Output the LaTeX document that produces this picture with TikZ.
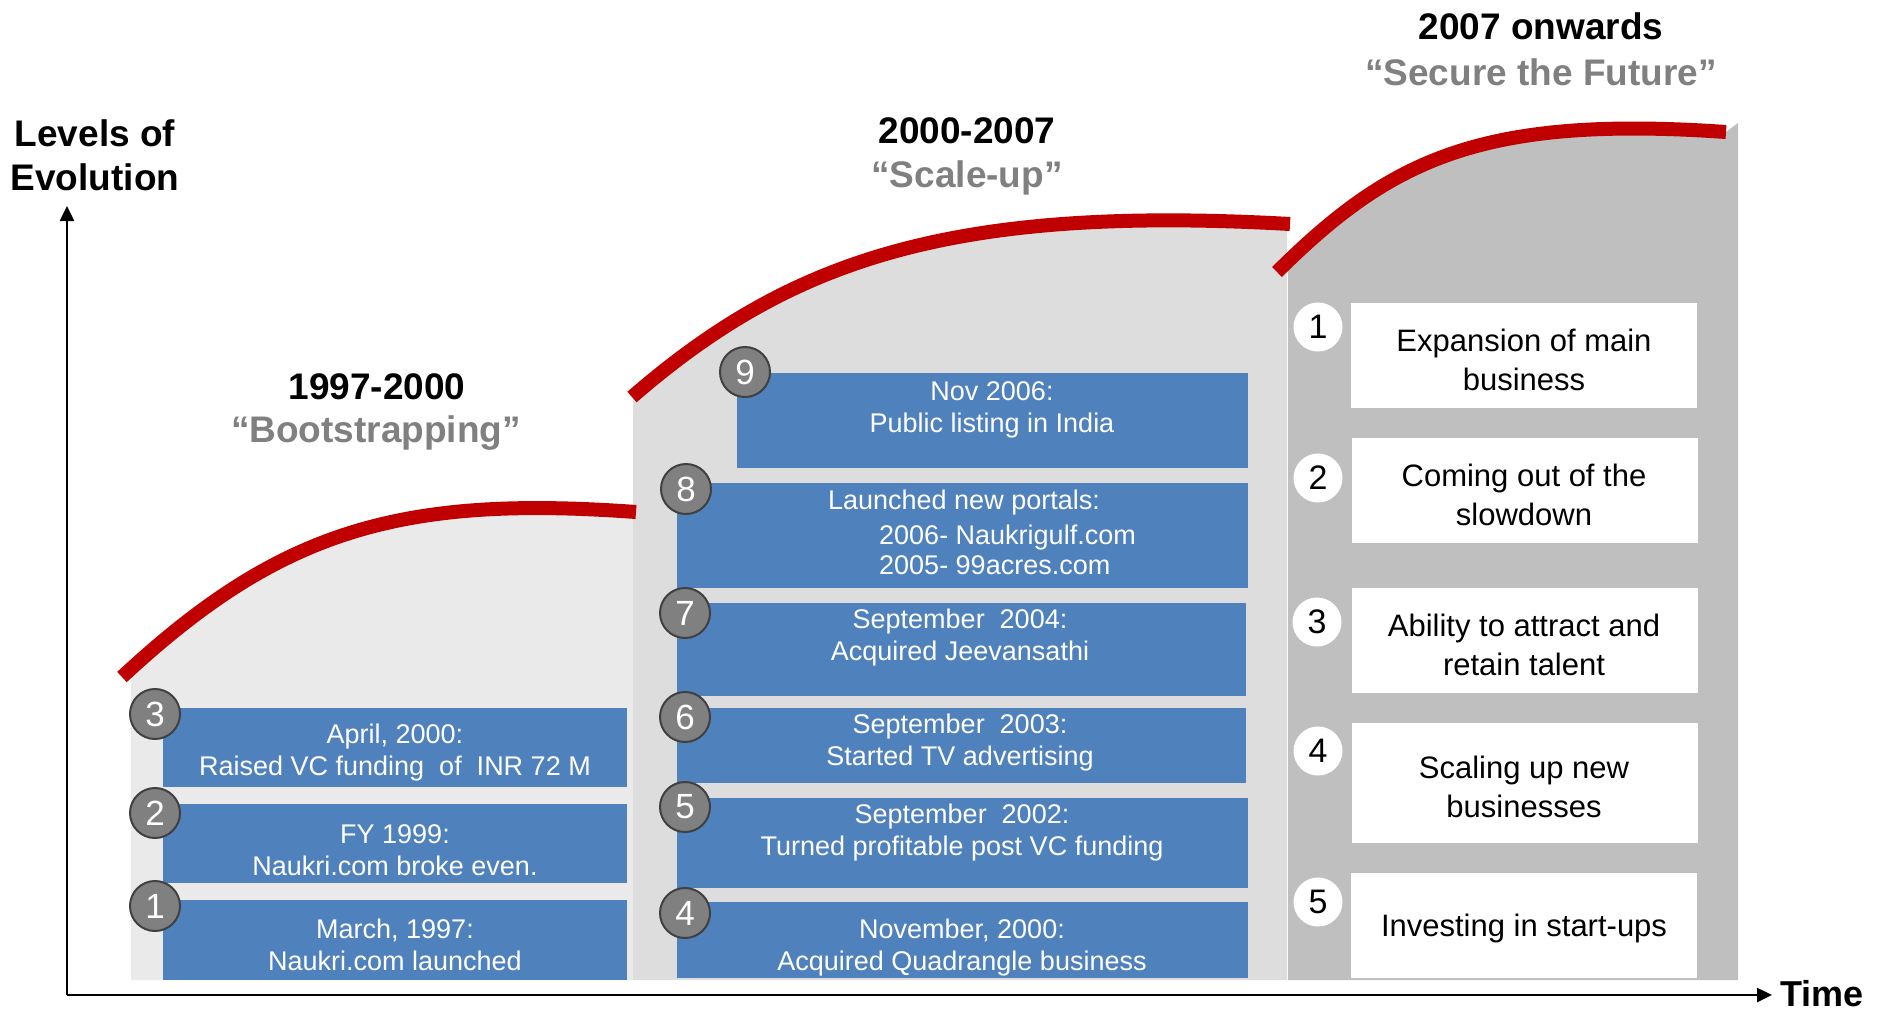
\documentclass[tikz,border=0pt]{standalone}
\usepackage{fontspec}
\setmainfont{Liberation Sans}
\usetikzlibrary{arrows.meta,fit}
\definecolor{redc}{HTML}{C00000}
\definecolor{bluec}{HTML}{4F81BD}
\definecolor{pone}{HTML}{EAEAEA}
\definecolor{ptwo}{HTML}{DDDDDD}
\definecolor{pthree}{HTML}{BFBFBF}
\definecolor{grayt}{HTML}{808080}
\definecolor{circf}{HTML}{808080}
\definecolor{circd}{HTML}{404040}
\begin{document}
\begin{tikzpicture}[x=1bp,y=-1bp,
  redline/.style={line width=14bp, draw=redc},
  bluebox/.style={fill=bluec, inner sep=0pt, outer sep=0pt},
  whitebox/.style={fill=white, inner sep=0pt, outer sep=0pt},
  bluetxt/.style={text=white, font=\fontsize{27bp}{32bp}\selectfont, align=center, inner sep=0pt},
  blacktxt/.style={text=black, font=\fontsize{31bp}{39bp}\selectfont, align=center, inner sep=0pt},
  gcirc/.style={circle, fill=circf, draw=circd, line width=2bp, minimum size=50bp, inner sep=0pt, text=white, font=\fontsize{35bp}{35bp}\selectfont},
  wcirc/.style={circle, fill=white, minimum size=49bp, inner sep=0pt, text=black, font=\fontsize{34bp}{34bp}\selectfont},
  hdr/.style={font=\bfseries\fontsize{37bp}{42bp}\selectfont, inner sep=0pt},
  axisline/.style={line width=2.5bp, -{Triangle[length=15bp,width=14bp]}},
]
\useasboundingbox (0,0) rectangle (1883,1011);

% panel fills
\begin{scope}
\clip (131,0) rectangle (633,980);
\fill[pone] (122,677) .. controls (280,530) and (400,495) .. (636,512) -- (636,980) -- (122,980) -- cycle;
\end{scope}
\begin{scope}
\clip (633,0) rectangle (1287,980);
\fill[ptwo] (632,397) .. controls (790,260) and (950,205) .. (1290,224) -- (1290,980) -- (632,980) -- cycle;
\end{scope}
\begin{scope}
\clip (1288,0) rectangle (1738,980);
\fill[pthree] (1277,272) .. controls (1390,160) and (1480,115) .. (1726,132) -- (1738,123) -- (1738,980) -- (1277,980) -- cycle;
\end{scope}

% red curves
\draw[redline] (122,677) .. controls (280,530) and (400,495) .. (636,512);
\draw[redline] (632,397) .. controls (790,260) and (950,205) .. (1290,224);
\draw[redline] (1277,272) .. controls (1390,160) and (1480,115) .. (1726,132);

% panel 1 boxes
\node[bluebox, fit={(163,708) (627,787)}] (b3) {};
\node[bluebox, fit={(163,804) (627,883)}] (b2) {};
\node[bluebox, fit={(163,900) (627,980)}] (b1) {};
\node[bluetxt] (t3) at (395,753) {April, 2000:\\Raised VC funding\ \ of\ \ INR 72 M};
\node[bluetxt] (t2) at (395,850) {FY 1999:\\Naukri.com broke even.};
\node[bluetxt] (t1) at (395,945) {March, 1997:\\Naukri.com launched};
\node[gcirc] (c3) at (155,714) {3};
\node[gcirc] (c2) at (155,813) {2};
\node[gcirc] (c1) at (155,906) {1};

% panel 2 boxes
\node[bluebox, fit={(737,373) (1248,468)}] (b9) {};
\node[bluebox, fit={(677,483) (1248,588)}] (b8) {};
\node[bluebox, fit={(677,603) (1246,696)}] (b7) {};
\node[bluebox, fit={(677,708) (1246,783)}] (b6) {};
\node[bluebox, fit={(677,798) (1248,888)}] (b5) {};
\node[bluebox, fit={(677,902) (1248,978)}] (b4) {};
\node[bluetxt] (t9) at (992,410) {Nov 2006:\\Public listing in India};
\node[bluetxt] (t8a) at (964,503) {Launched new portals:};
\node[bluetxt, align=left, anchor=west, font=\fontsize{27bp}{30bp}\selectfont] (t8b) at (879,550) {2006- Naukrigulf.com\\2005- 99acres.com};
\node[bluetxt] (t7) at (960,638) {September\ \ 2004:\\Acquired Jeevansathi};
\node[bluetxt] (t6) at (960,743) {September\ \ 2003:\\Started TV advertising};
\node[bluetxt] (t5) at (962,833) {September\ \ 2002:\\Turned profitable post VC funding};
\node[bluetxt] (t4) at (962,948) {November, 2000:\\Acquired Quadrangle business};
\node[gcirc] (c9) at (745,372) {9};
\node[gcirc] (c8) at (686,489) {8};
\node[gcirc] (c7) at (685,613) {7};
\node[gcirc] (c6) at (685,717) {6};
\node[gcirc] (c5) at (685,807) {5};
\node[gcirc] (c4) at (685,913) {4};

% panel 3 boxes
\node[whitebox, fit={(1351,303) (1697,408)}] (w1) {};
\node[whitebox, fit={(1352,438) (1698,543)}] (w2) {};
\node[whitebox, fit={(1352,588) (1698,693)}] (w3) {};
\node[whitebox, fit={(1352,723) (1698,843)}] (w4) {};
\node[whitebox, fit={(1351,873) (1697,978)}] (w5) {};
\node[blacktxt] (s1) at (1524,360) {Expansion of main\\business};
\node[blacktxt] (s2) at (1524,495) {Coming out of the\\slowdown};
\node[blacktxt] (s3) at (1524,645) {Ability to attract and\\retain talent};
\node[blacktxt] (s4) at (1524,787) {Scaling up new\\businesses};
\node[blacktxt] (s5) at (1524,928) {Investing in start-ups};
\node[wcirc] (d1) at (1318,327) {1};
\node[wcirc] (d2) at (1318,478) {2};
\node[wcirc] (d3) at (1317,622) {3};
\node[wcirc] (d4) at (1318,751) {4};
\node[wcirc] (d5) at (1318,902) {5};

% headers
\node[hdr] (h1) at (377,387) {1997-2000};
\node[hdr, text=grayt] (q1) at (376,433) {“Bootstrapping”};
\node[hdr] (h2) at (967,131) {2000-2007};
\node[hdr, text=grayt] (q2) at (967,178) {“Scale-up”};
\node[hdr] (h3) at (1541,26) {2007 onwards};
\node[hdr, text=grayt] (q3) at (1541,72) {“Secure the Future”};

% axes
\coordinate (O) at (67,995);
\coordinate (ytip) at (67,206);
\coordinate (xtip) at (1772,995);
\draw[axisline] (O) -- (ytip);
\draw[axisline] (O) -- (xtip);
\node[font=\bfseries\fontsize{37bp}{44bp}\selectfont, align=center, inner sep=0pt] (ylab) at (95,155) {Levels of\\Evolution};
\node[font=\bfseries\fontsize{36bp}{40bp}\selectfont, inner sep=0pt] (xlab) at (1822,994) {Time};
\end{tikzpicture}
\end{document}
